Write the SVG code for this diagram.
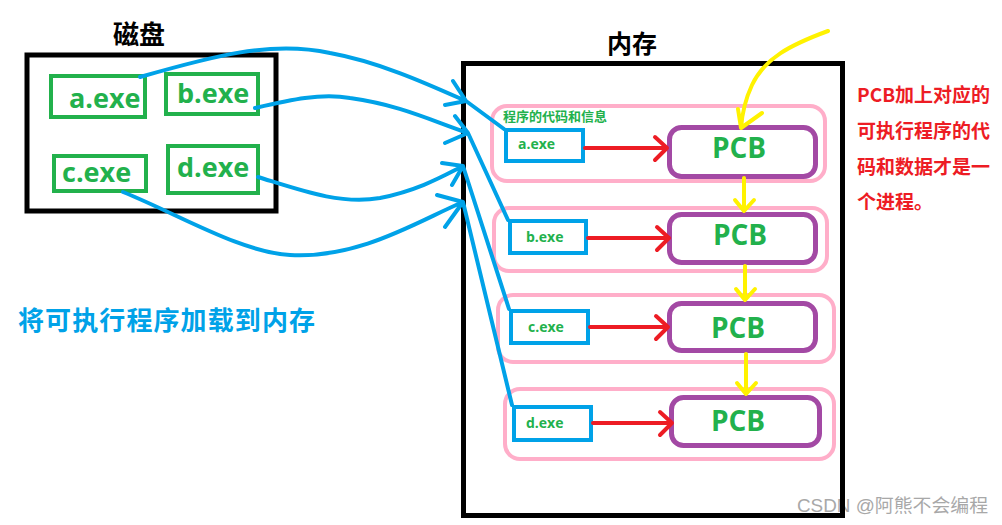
<svg xmlns="http://www.w3.org/2000/svg" width="1002" height="525" viewBox="0 0 1002 525">
<style>
.frame{fill:none;stroke:#000;stroke-width:5}
.gbox{fill:none;stroke:#22b14c;stroke-width:4}
.bbox{fill:none;stroke:#00a2e8;stroke-width:4}
.pink{fill:none;stroke:#ffaec9;stroke-width:4}
.pcb{fill:none;stroke:#a349a4;stroke-width:5}
.red{fill:none;stroke:#ed1c24;stroke-width:4;stroke-linecap:round;stroke-linejoin:round}
.yel{fill:none;stroke:#fff200;stroke-width:4;stroke-linecap:round;stroke-linejoin:round}
.blue{fill:none;stroke:#00a2e8;stroke-width:4;stroke-linecap:round;stroke-linejoin:round}
.title{font-family:"Noto Sans CJK SC",sans-serif;font-weight:bold;fill:#000}
.gt{font-family:"Open Sans","Noto Sans CJK SC",sans-serif;font-weight:bold;fill:#22b14c}
.rt{font-family:"Noto Sans CJK SC",sans-serif;font-weight:bold;fill:#ed1c24;font-size:19px}
</style>
<rect width="1002" height="525" fill="#fff"/>
<text x="797" y="512" font-family="Liberation Sans,'Noto Sans CJK SC',sans-serif" font-size="18" fill="#a8a8a8" textLength="191" lengthAdjust="spacingAndGlyphs">CSDN @阿熊不会编程</text>

<g id="disk">
<rect class="frame" x="27" y="55" width="249" height="156"/>
<text class="title" x="113" y="44" font-size="26">磁盘</text>
</g>
<g id="disk-a"><rect class="gbox" x="51" y="76" width="94" height="41"/><text class="gt" x="69" y="108" font-size="27">a.exe</text></g>
<g id="disk-b"><rect class="gbox" x="166" y="74" width="92" height="40"/><text class="gt" x="177" y="103" font-size="27">b.exe</text></g>
<g id="disk-c"><rect class="gbox" x="54" y="156" width="92" height="35"/><text class="gt" x="62" y="182" font-size="27">c.exe</text></g>
<g id="disk-d"><rect class="gbox" x="168" y="146" width="90" height="47"/><text class="gt" x="177" y="177" font-size="27">d.exe</text></g>

<g id="load-label"><text x="18" y="330" font-family="Noto Sans CJK SC,sans-serif" font-weight="bold" font-size="26" fill="#00a2e8" textLength="297">将可执行程序加载到内存</text></g>

<g id="memory">
<rect class="frame" x="463.5" y="63.5" width="379" height="452"/>
<text class="title" x="607" y="53" font-size="25">内存</text>
</g>

<g id="proc1">
<rect class="pink" x="492" y="106" width="333" height="75" rx="15"/>
<text class="gt" x="503" y="121" font-size="13" font-family="Noto Sans CJK SC,sans-serif">程序的代码和信息</text>
<rect class="bbox" x="506" y="130" width="77" height="31"/>
<text class="gt" x="518" y="149" font-size="14">a.exe</text>
<rect class="pcb" x="669.5" y="127.5" width="146" height="49" rx="12"/>
<text class="gt" x="739" y="158" font-size="28" text-anchor="middle">PCB</text>
</g>
<g id="proc2">
<rect class="pink" x="494" y="208" width="333" height="63" rx="15"/>
<rect class="bbox" x="510" y="221" width="76" height="32"/>
<text class="gt" x="526" y="242" font-size="14">b.exe</text>
<rect class="pcb" x="669.5" y="214.5" width="146" height="48" rx="12"/>
<text class="gt" x="740" y="245" font-size="28" text-anchor="middle">PCB</text>
</g>
<g id="proc3">
<rect class="pink" x="498" y="295" width="336" height="67" rx="15"/>
<rect class="bbox" x="511" y="311" width="77" height="32"/>
<text class="gt" x="528" y="332" font-size="14">c.exe</text>
<rect class="pcb" x="669.5" y="303.5" width="146" height="47" rx="12"/>
<text class="gt" x="738" y="338" font-size="28" text-anchor="middle">PCB</text>
</g>
<g id="proc4">
<rect class="pink" x="505" y="389" width="329" height="70" rx="15"/>
<rect class="bbox" x="514" y="407" width="77" height="33"/>
<text class="gt" x="526" y="428" font-size="14">d.exe</text>
<rect class="pcb" x="671.5" y="397.5" width="148" height="48" rx="12"/>
<text class="gt" x="738" y="431" font-size="28" text-anchor="middle">PCB</text>
</g>

<g id="note">
<text class="rt" x="857" y="102">PCB加上对应的</text>
<text class="rt" x="857" y="138">可执行程序的代</text>
<text class="rt" x="857" y="174">码和数据才是一</text>
<text class="rt" x="857" y="209">个进程。</text>
</g>

<g id="connectors">
<path class="red" d="M585,148 H667 M655,137 L667,148 L655,160"/>
<path class="red" d="M588,238 H669 M657,227 L669,238 L657,250"/>
<path class="red" d="M590,327 H668 M656,316 L668,327 L656,339"/>
<path class="red" d="M593,423 H672 M660,412 L672,423 L660,435"/>

<path class="yel" d="M828,31 C790,45 765,58 752,85 C745,100 742,115 741,128 M738,109 L741,128 L762,113"/>
<path class="yel" d="M744,178 V211 M735,200 L744,211 L754,200"/>
<path class="yel" d="M745,266 V300 M736,289 L745,300 L755,289"/>
<path class="yel" d="M746,354 V394 M737,383 L746,394 L756,383"/>

<path class="blue" d="M140,77 C210,57 270,40 330,53 C380,62 430,85 466,101 L504,129 M453,81 L466,101 L445,105"/>
<path class="blue" d="M255,108 C290,100 320,93 350,98 C400,105 430,120 468,133 L508,220 M455,116 L468,133 L445,143"/>
<path class="blue" d="M258,177 C300,190 340,205 380,198 C420,190 445,175 463,166 L509,309 M442,163 L463,166 L452,185"/>
<path class="blue" d="M123,192 C180,215 240,252 290,255 C360,259 420,220 463,202 L512,405 M437,195 L463,202 L445,227"/>
</g>
</svg>
